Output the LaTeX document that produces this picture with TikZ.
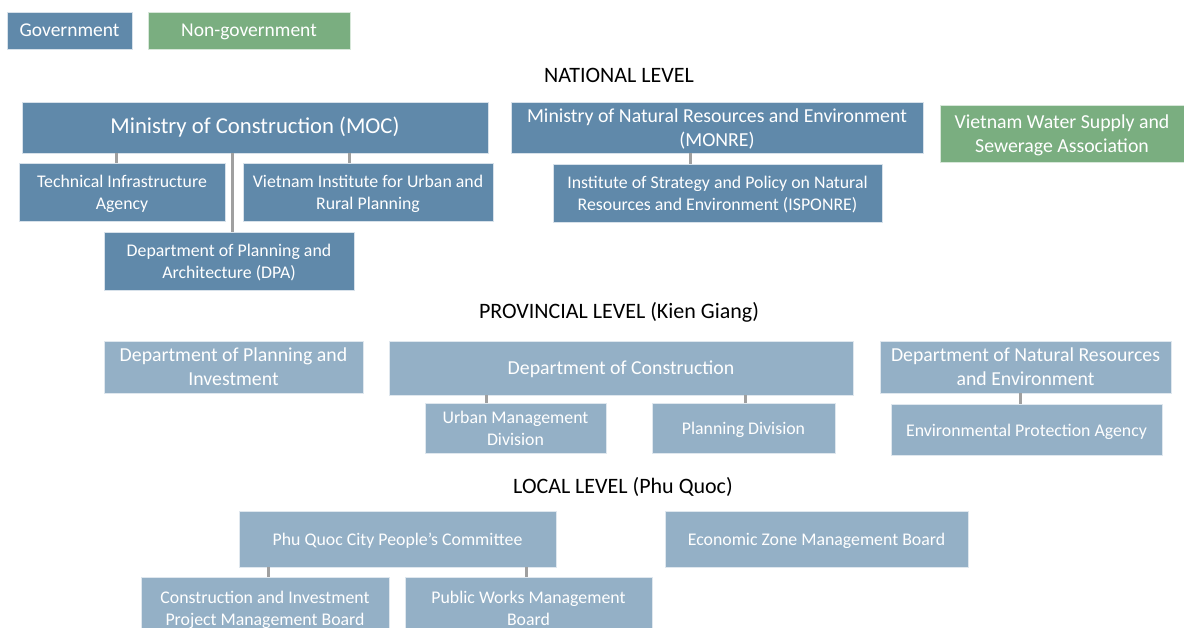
\documentclass[tikz,border=0pt]{standalone}
\usepackage{fontspec}
\setmainfont{Carlito}
\definecolor{govdark}{RGB}{96,137,170}
\definecolor{govlight}{RGB}{148,176,198}
\definecolor{nongreen}{RGB}{122,174,128}
\definecolor{linkgray}{RGB}{160,160,160}
\tikzstyle{unit}=[
	shape=rectangle,
	draw=white!75!govdark,
	line width=0.8pt,
	text=white,
	align=center,
	inner sep=0pt,
	text depth=-12pt,
	font=\fontsize{17.8}{22}\selectfont
]
\tikzstyle{national}=[unit,fill=govdark]
\tikzstyle{province}=[unit,fill=govlight,draw=white!70!govlight]
\tikzstyle{nongov}=[unit,fill=nongreen,draw=white!70!nongreen]
\tikzstyle{bigtext}=[font=\fontsize{19.8}{24}\selectfont]
\tikzstyle{oneline}=[text height=13pt]
\tikzstyle{levelhead}=[font=\fontsize{22}{26}\selectfont,text=black]
\tikzstyle{link}=[draw=linkgray,line width=3pt,-]

\begin{document}
\begin{tikzpicture}[x=1pt,y=-1pt]
			
				\useasboundingbox (0,0) rectangle (1184,628);
				
				% legend
				\node[national,oneline,minimum width=125pt,minimum height=37pt,font=\fontsize{19.5}{24}\selectfont]	(gov)	at (69.5,30.5) {Government};
				\node[nongov,oneline,minimum width=202pt,minimum height=37pt,font=\fontsize{19.5}{24}\selectfont]	(ngo)	at (249,30.5) {Non-government};
				
				% national level
				\node[levelhead]	(nat)	at (619,75) {NATIONAL LEVEL};
				\node[national,oneline,minimum width=466pt,minimum height=51pt,font=\fontsize{22.7}{26}\selectfont]	(moc)	at (255,127.5) {Ministry of Construction (MOC)};
				\node[national,minimum width=206pt,minimum height=58pt]	(tia)	at (122,192) {Technical Infrastructure\\Agency};
				\node[national,minimum width=250pt,minimum height=58pt]	(viup)	at (368,192) {Vietnam Institute for Urban and\\Rural Planning};
				\node[national,minimum width=250pt,minimum height=58pt]	(dpa)	at (229,261) {Department of Planning and\\Architecture (DPA)};
				\node[national,bigtext,minimum width=412pt,minimum height=51pt]	(monre)	at (717,127.5) {Ministry of Natural Resources and Environment\\(MONRE)};
				\node[national,minimum width=329pt,minimum height=58pt]	(isponre)	at (717.5,193) {Institute of Strategy and Policy on Natural\\Resources and Environment (ISPONRE)};
				\node[nongov,bigtext,minimum width=244pt,minimum height=57pt]	(vwsa)	at (1062,133.5) {Vietnam Water Supply and\\Sewerage Association};
				
				% provincial level
				\node[levelhead]	(prov)	at (619,312) {PROVINCIAL LEVEL (Kien Giang)};
				\node[province,bigtext,minimum width=259pt,minimum height=52pt]	(dpi)	at (233.5,367) {Department of Planning and\\Investment};
				\node[province,bigtext,oneline,minimum width=464pt,minimum height=54pt]	(doc)	at (621,368) {Department of Construction};
				\node[province,minimum width=181pt,minimum height=50pt]	(umd)	at (515.5,428) {Urban Management\\Division};
				\node[province,oneline,minimum width=183pt,minimum height=50pt]	(pd)	at (743.5,428) {Planning Division};
				\node[province,bigtext,minimum width=291pt,minimum height=52pt]	(donre)	at (1025.5,367) {Department of Natural Resources\\and Environment};
				\node[province,oneline,minimum width=271pt,minimum height=51pt]	(epa)	at (1026.5,429.5) {Environmental Protection Agency};
				
				% local level
				\node[levelhead]	(loc)	at (623,487) {LOCAL LEVEL (Phu Quoc)};
				\node[province,oneline,minimum width=317pt,minimum height=56pt]	(pqc)	at (397.5,539) {Phu Quoc City People’s Committee};
				\node[province,oneline,minimum width=303pt,minimum height=56pt]	(ezmb)	at (816.5,539) {Economic Zone Management Board};
				\node[province,minimum width=248pt,minimum height=62pt]	(cipmb)	at (265,608) {Construction and Investment\\Project Management Board};
				\node[province,minimum width=247pt,minimum height=62pt]	(pwmb)	at (528.5,608) {Public Works Management\\Board};
				
				% attachment points
				\coordinate	(tiatop)	at ([xshift=-6pt]tia.north);
				\coordinate	(viuptop)	at ([xshift=-19pt]viup.north);
				\coordinate	(dpatop)	at ([xshift=3pt]dpa.north);
				\coordinate	(isptop)	at ([xshift=-27.5pt]isponre.north);
				\coordinate	(umdtop)	at ([xshift=-29.5pt]umd.north);
				\coordinate	(pdtop)	at ([xshift=1.5pt]pd.north);
				\coordinate	(epatop)	at ([xshift=-6.5pt]epa.north);
				\coordinate	(ciptop)	at ([xshift=3pt]cipmb.north);
				\coordinate	(pwtop)	at ([xshift=-2.5pt]pwmb.north);
				
				\path[link]
				(tiatop) edge (tiatop |- moc.south)
				(viuptop) edge (viuptop |- moc.south)
				(dpatop) edge (dpatop |- moc.south)
				(isptop) edge (isptop |- monre.south)
				(umdtop) edge (umdtop |- doc.south)
				(pdtop) edge (pdtop |- doc.south)
				(epatop) edge (epatop |- donre.south)
				(ciptop) edge (ciptop |- pqc.south)
				(pwtop) edge (pwtop |- pqc.south);
			
			\end{tikzpicture}
\end{document}
